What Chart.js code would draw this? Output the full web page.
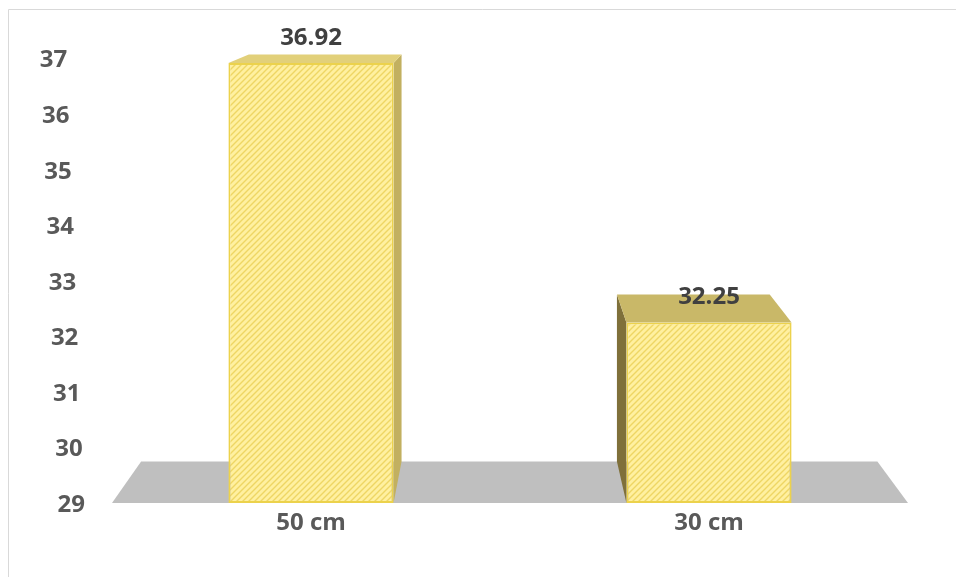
<!DOCTYPE html>
<html>
<head>
<meta charset="utf-8">
<title>Bar chart</title>
<script src="https://cdn.jsdelivr.net/npm/chart.js@4/dist/chart.umd.min.js"></script>
<style>
  html, body { margin: 0; padding: 0; background: #ffffff; }
  #wrap { position: relative; width: 956px; height: 577px; }
</style>
</head>
<body>
<div id="wrap"><canvas id="chart" width="956" height="577"></canvas></div>
<script>
// Chart data
const categories = ['50 cm', '30 cm'];
const values = [36.92, 32.25];
const yTicks = [29, 30, 31, 32, 33, 34, 35, 36, 37];

const FONT = '"Open Sans", "Liberation Sans", sans-serif';

// Diagonal hatch fill for the front faces of the bars
function makeHatch() {
  const c = document.createElement('canvas');
  c.width = 6; c.height = 6;
  const g = c.getContext('2d');
  g.fillStyle = '#fff0a0';
  g.fillRect(0, 0, 6, 6);
  g.strokeStyle = '#eed664';
  g.lineWidth = 1.4;
  g.beginPath();
  g.moveTo(-1, 7); g.lineTo(7, -1);
  g.moveTo(-4, 4); g.lineTo(4, -4);
  g.moveTo(2, 10); g.lineTo(10, 2);
  g.stroke();
  return g.createPattern(c, 'repeat');
}

// Perspective projection of the front plane onto the back plane
const VP = { x: 500, y: -52 };
const DEPTH = 0.925;
function back(px, py) {
  return { x: VP.x + DEPTH * (px - VP.x), y: VP.y + DEPTH * (py - VP.y) };
}
function poly(ctx, pts, fill) {
  ctx.beginPath();
  ctx.moveTo(pts[0].x, pts[0].y);
  for (let i = 1; i < pts.length; i++) ctx.lineTo(pts[i].x, pts[i].y);
  ctx.closePath();
  ctx.fillStyle = fill;
  ctx.fill();
}

// Floor, bar tops and bar sides, drawn behind the front faces
const box3d = {
  id: 'box3d',
  beforeDraw(chart) {
    const ctx = chart.ctx;
    ctx.save();
    ctx.strokeStyle = '#d9d9d9';
    ctx.lineWidth = 1;
    ctx.beginPath();
    ctx.moveTo(8.5, 577);
    ctx.lineTo(8.5, 9.5);
    ctx.lineTo(956, 9.5);
    ctx.stroke();
    ctx.restore();
  },
  beforeDatasetsDraw(chart) {
    const { ctx, chartArea, scales } = chart;
    const yb = scales.y.getPixelForValue(yTicks[0]);
    ctx.save();
    // floor
    const fl = { x: chartArea.left, y: yb };
    const fr = { x: chartArea.right, y: yb };
    poly(ctx, [fl, fr, back(fr.x, fr.y), back(fl.x, fl.y)], '#bfbfbf');
    // bar sides and tops
    const meta = chart.getDatasetMeta(0);
    meta.data.forEach((bar) => {
      const p = bar.getProps(['x', 'y', 'base', 'width'], true);
      const l = p.x - p.width / 2, r = p.x + p.width / 2;
      const top = p.y, base = p.base;
      if (p.x < VP.x) {
        poly(ctx, [{ x: r, y: top }, back(r, top), back(r, base), { x: r, y: base }], '#c2b060');
      } else {
        poly(ctx, [{ x: l, y: top }, back(l, top), back(l, base), { x: l, y: base }], '#7f703a');
      }
      const topFill = p.x < VP.x ? '#e2d07a' : '#c9b868';
      poly(ctx, [{ x: l, y: top }, { x: r, y: top }, back(r, top), back(l, top)], topFill);
    });
    ctx.restore();
  },
  afterDatasetsDraw(chart) {
    const { ctx, scales } = chart;
    ctx.save();
    ctx.font = 'bold 24px ' + FONT;
    ctx.textAlign = 'center';
    ctx.textBaseline = 'middle';
    ctx.fillStyle = '#404040';
    const meta = chart.getDatasetMeta(0);
    meta.data.forEach((bar, i) => {
      const p = bar.getProps(['x', 'y'], true);
      ctx.fillText(values[i].toFixed(2), p.x, p.y - 25);
    });
    // value axis labels, following the slant of the wall edge
    ctx.textAlign = 'right';
    ctx.fillStyle = '#595959';
    const yb = scales.y.getPixelForValue(yTicks[0]);
    yTicks.forEach((v) => {
      const py = scales.y.getPixelForValue(v);
      ctx.fillText(String(v), 85 - (yb - py) * 0.04, py + 2);
    });
    ctx.restore();
  }
};

new Chart(document.getElementById('chart'), {
  type: 'bar',
  data: {
    labels: categories,
    datasets: [{
      data: values,
      base: yTicks[0],
      backgroundColor: makeHatch(),
      borderColor: '#ecd24c',
      borderWidth: 2,
      borderSkipped: false,
      categoryPercentage: 1,
      barPercentage: 0.415
    }]
  },
  options: {
    responsive: false,
    animation: false,
    devicePixelRatio: 1,
    layout: { padding: { left: 112, right: 48, top: 58.6, bottom: 0 } },
    plugins: { legend: { display: false }, tooltip: { enabled: false } },
    scales: {
      x: {
        grid: { display: false, drawTicks: false },
        border: { display: false },
        ticks: { font: { family: FONT, size: 24, weight: 'bold' }, color: '#595959', padding: 6 },
        afterFit(scale) { scale.height = 74; }
      },
      y: {
        display: false,
        min: 29,
        max: 37
      }
    }
  },
  plugins: [box3d]
});
</script>
</body>
</html>
